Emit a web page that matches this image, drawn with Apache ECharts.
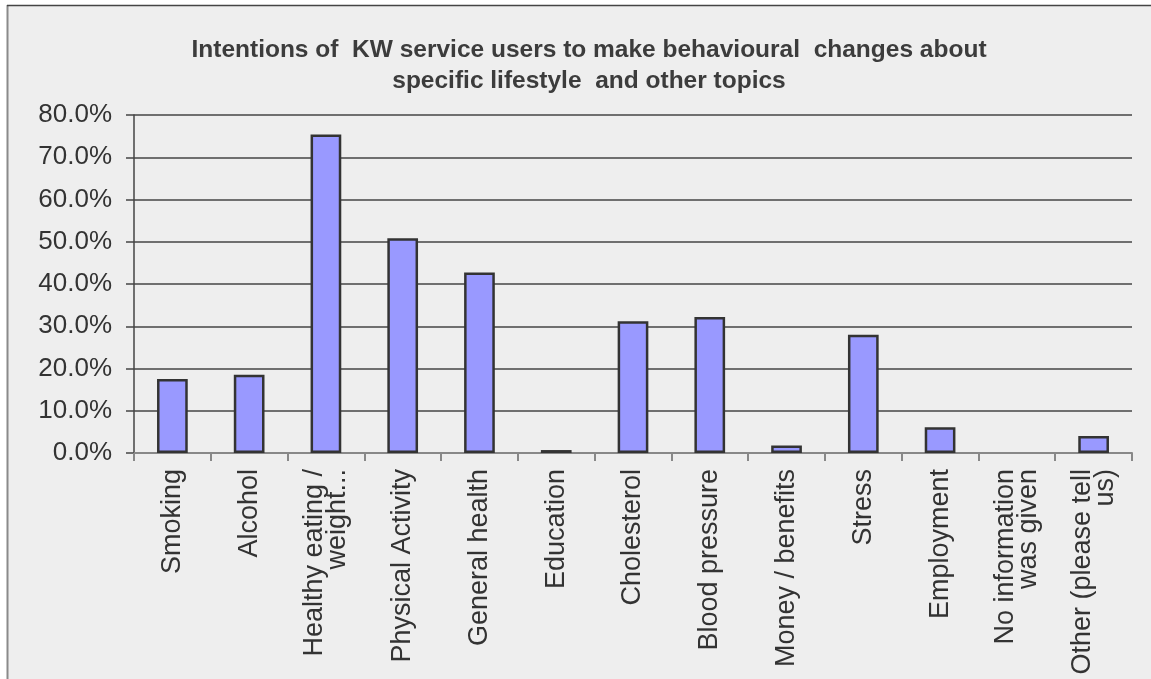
<!DOCTYPE html>
<html>
<head>
<meta charset="utf-8">
<script src="https://cdn.jsdelivr.net/npm/echarts@6/dist/echarts.min.js"></script>
<style>
html,body{margin:0;padding:0;background:#ffffff;}
#chart{width:1151px;height:679px;}
</style>
</head>
<body>
<div id="chart"></div>
<script>
const titleText = 'Intentions of  KW service users to make behavioural  changes about\nspecific lifestyle  and other topics';
const categories = ['Smoking','Alcohol','Healthy eating /\nweight...','Physical Activity','General health','Education','Cholesterol','Blood pressure','Money / benefits','Stress','Employment','No information\nwas given','Other (please tell\nus)'];
const values = [17.5, 18.5, 75.4, 50.8, 42.7, 0.7, 31.2, 32.2, 1.8, 28.0, 6.1, 0, 4.0];
const yTicks = [0, 10, 20, 30, 40, 50, 60, 70, 80];

const chart = echarts.init(document.getElementById('chart'));
chart.setOption({
  backgroundColor: '#ffffff',
  animation: false,
  graphic: [
    { type: 'rect', z: -10, shape: { x: 7, y: 5, width: 1160, height: 700 }, style: { fill: '#eeeeee' } },
    { type: 'line', z: -9, shape: { x1: 7.5, y1: 5, x2: 7.5, y2: 679 }, style: { stroke: '#8a8a8a', lineWidth: 2 } },
    { type: 'line', z: -9, shape: { x1: 7, y1: 5.5, x2: 1151, y2: 5.5 }, style: { stroke: '#444444', lineWidth: 1.5 } }
  ],
  title: {
    text: titleText,
    left: 584, top: 30, textAlign: 'center',
    textStyle: { fontFamily: 'Liberation Sans', fontSize: 24.5, fontWeight: 'bold', color: '#3c3c3c', lineHeight: 31 }
  },
  grid: { left: 134, right: 19, top: 115, bottom: 226, containLabel: false },
  xAxis: {
    type: 'category',
    data: categories,
    axisLine: { lineStyle: { color: '#888888', width: 2 } },
    axisTick: { show: true, length: 8, alignWithLabel: false, lineStyle: { color: '#888888', width: 2 } },
    axisLabel: {
      rotate: 90, interval: 0, margin: 16,
      fontFamily: 'Liberation Sans', fontSize: 27, color: '#333333', lineHeight: 23, align: 'right'
    }
  },
  yAxis: {
    type: 'value', min: 0, max: 80, interval: 10,
    axisLine: { show: true, lineStyle: { color: '#444444', width: 1.5 } },
    axisTick: { show: true, length: 8, lineStyle: { color: '#444444', width: 1.5 } },
    splitLine: { lineStyle: { color: '#444444', width: 1.5 } },
    axisLabel: {
      margin: 22,
      fontFamily: 'Liberation Sans', fontSize: 26, color: '#333333',
      formatter: v => v.toFixed(1) + '%'
    }
  },
  series: [{
    type: 'bar',
    data: values.map(v => v === 0 ? { value: v, itemStyle: { borderWidth: 0 } } : v),
    barCategoryGap: '60%',
    itemStyle: { color: '#9999ff', borderColor: '#333333', borderWidth: 2.5 }
  }]
});
</script>
</body>
</html>
